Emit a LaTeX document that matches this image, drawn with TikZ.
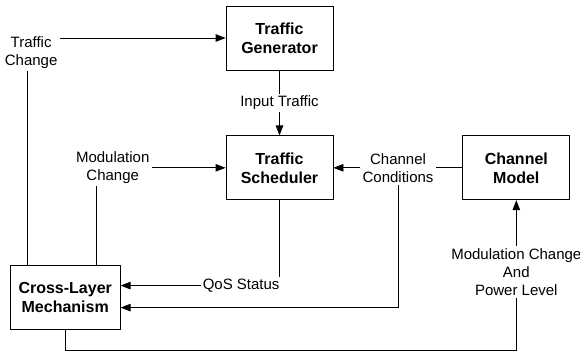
\documentclass[tikz,border=0pt]{standalone}
\usepackage{fontspec}
\setmainfont{Liberation Sans}
\usetikzlibrary{arrows.meta, positioning}

\begin{document}
\begin{tikzpicture}[
    node distance=65pt and 129pt,
    base/.style={rectangle, draw, line width=0.8pt, font=\fontsize{16}{19}\selectfont\bfseries, align=center, minimum width=107pt, minimum height=64pt, inner sep=0pt},
    wide/.style={base, minimum width=110pt},
    lbl/.style={font=\fontsize{15}{18}\selectfont, align=center, inner sep=2pt, fill=white},
    link/.style={line width=0.8pt},
    arrow/.style={link, -{Triangle[length=10pt, width=7.5pt]}}
]
    \useasboundingbox (0,0) rectangle (580pt,-351pt);

    % --- Nodes ---
    \node[base] (gen) at (279.5pt,-38pt) {Traffic \\ Generator};
    \node[base, below=of gen] (sched) {Traffic \\ Scheduler};
    \node[base, right=of sched] (channel) {Channel \\ Model};
    \node[wide, below left=65pt and 105pt of sched] (clm) {Cross-Layer \\ Mechanism};

    % Labels
    \node[lbl, left=166pt of gen, yshift=-15pt] (tchange) {Traffic \\ Change};
    \node[lbl, left=74pt of sched] (modchange) {Modulation \\ Change};
    \node[lbl, right=27pt of sched] (chcond) {Channel \\ Conditions};
    \node[lbl, right=80pt of clm, yshift=12pt] (qos) {QoS Status};
    \node[lbl, below=46pt of channel] (modpow) {Modulation Change \\ And \\ Power Level};

    % --- Connections ---
    \draw[arrow] (tchange.east |- gen.west) -- (gen.west);
    \draw[link] ([xshift=-4pt]tchange.south) -- ([xshift=-4pt]tchange.south |- clm.north);

    \draw[arrow] (gen.south) -- node[lbl] (intraffic) {Input Traffic} (sched.north);

    \draw[arrow] (modchange.east |- sched.west) -- (sched.west);
    \draw[link] ([xshift=-16pt]modchange.south) -- ([xshift=-16pt]modchange.south |- clm.north);

    \draw[link] (channel.west) -- (chcond.east |- channel.west);
    \draw[arrow] (chcond.west |- sched.east) -- (sched.east);
    \draw[arrow] (chcond.south) |- ([yshift=-10pt]clm.east);

    \draw[link] (sched.south) -- (sched.south |- qos.north);
    \draw[arrow] (qos.west) -- (qos.west -| clm.east);

    \draw[arrow] (modpow.north) -- (channel.south);
    \draw[link] (clm.south) -- ++(0,-20pt) -| (modpow.south);

\end{tikzpicture}
\end{document}
